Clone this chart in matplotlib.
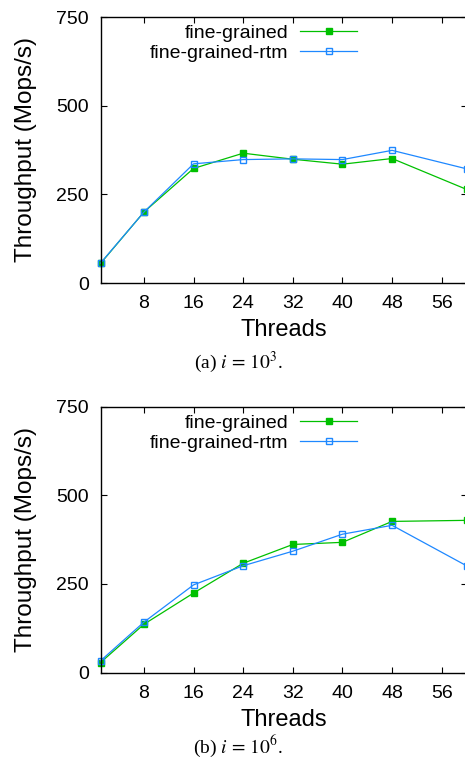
import matplotlib.pyplot as plt

plt.rcParams["font.family"] = ["Liberation Sans", "DejaVu Sans"]
plt.rcParams["mathtext.fontset"] = "stix"

threads = [1, 8, 16, 24, 32, 40, 48, 60]

# (a) i = 10^3
fine_a = [55, 200, 323, 366, 349, 335, 351, 264]
rtm_a = [56, 200, 336, 348, 350, 348, 374, 322]

# (b) i = 10^6
fine_b = [28, 136, 224, 308, 361, 367, 426, 429]
rtm_b = [33, 142, 247, 301, 342, 390, 415, 301]

xticks = [8, 16, 24, 32, 40, 48, 56]
yticks = [0, 250, 500, 750]
captions = ["(a) $i\\,=\\,10^3$.", "(b) $i\\,=\\,10^6$."]

green = "#00c000"
blue = "#1e88ff"

fig = plt.figure(figsize=(4.65, 7.61), dpi=100)
ax1 = fig.add_axes([100.5 / 465, 1 - 283 / 761, 366 / 465, 266 / 761])
ax2 = fig.add_axes([100.5 / 465, 1 - 672.5 / 761, 366 / 465, 266 / 761])

for ax, fine, rtm, cap, cy in [
    (ax1, fine_a, rtm_a, captions[0], 1 - 362 / 761),
    (ax2, fine_b, rtm_b, captions[1], 1 - 746 / 761),
]:
    ax.plot(threads, fine, color=green, marker="s", markersize=5, lw=0.9,
            label="fine-grained", clip_on=False)
    ax.plot(threads, rtm, color=blue, marker="s", markersize=5, lw=0.9,
            markerfacecolor="none", markeredgewidth=1.0,
            label="fine-grained-rtm", clip_on=False)
    ax.set_xlim(1, 60)
    ax.set_ylim(0, 750)
    ax.set_xticks(xticks)
    ax.set_yticks(yticks)
    ax.tick_params(direction="in", top=True, right=True, length=4,
                   labelsize=14, width=0.8)
    ax.tick_params(axis="y", pad=8.5)
    ax.tick_params(axis="x", pad=9)
    for s in ax.spines.values():
        s.set_linewidth(1.0)
    ax.set_xlabel("Threads", fontsize=17, labelpad=5)
    ax.set_ylabel("Throughput (Mops/s)", fontsize=17.5, labelpad=14)
    ax.legend(loc="upper right", bbox_to_anchor=(0.700, 0.972), frameon=False,
              markerfirst=False, fontsize=14, handlelength=2.9,
              handletextpad=0.6, labelspacing=0.12, borderpad=0,
              borderaxespad=0)
    fig.text(238 / 465, cy, cap, ha="center", va="center", fontsize=14,
             family="Liberation Serif")

plt.savefig("out.png")
